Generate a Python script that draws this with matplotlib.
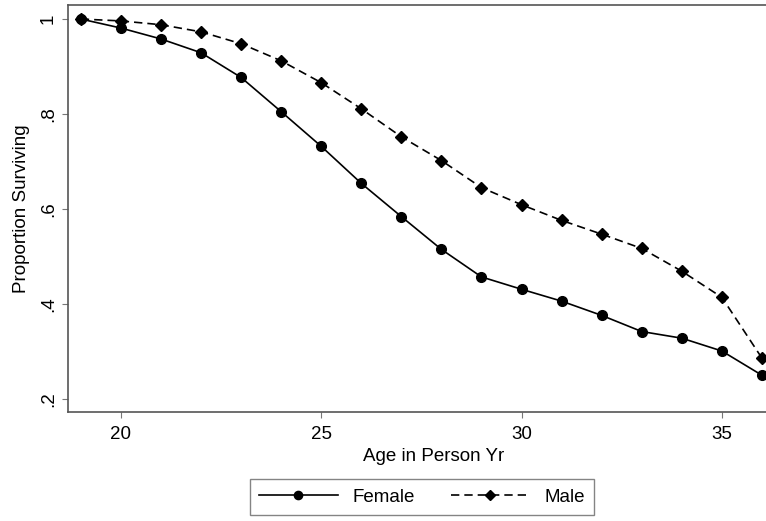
import matplotlib.pyplot as plt
from matplotlib.ticker import FixedLocator

plt.rcParams['font.family'] = ['Liberation Sans', 'DejaVu Sans']

ages = list(range(19, 37))
female = [1.0, 0.981, 0.958, 0.929, 0.877, 0.805, 0.732, 0.654, 0.584, 0.515,
          0.457, 0.431, 0.406, 0.376, 0.342, 0.328, 0.301, 0.250]
male = [1.0, 0.996, 0.988, 0.973, 0.948, 0.912, 0.866, 0.811, 0.752, 0.702,
        0.645, 0.609, 0.576, 0.547, 0.517, 0.469, 0.414, 0.286]

y_ticks = [0.2, 0.4, 0.6, 0.8, 1.0]
y_labels = ['.2', '.4', '.6', '.8', '1']
x_ticks = [20, 25, 30, 35]

fig = plt.figure(figsize=(7.66, 5.21), dpi=100)
ax = fig.add_axes([68 / 766, 109 / 521, 732 / 766, 407 / 521])

ax.plot(ages, female, '-', color='black', lw=1.2, marker='o', ms=7, label='Female')
ax.plot(ages, male, '--', color='black', lw=1.2, marker='D', ms=6.5,
        dashes=(5, 3), label='Male')

ax.set_xlim(18.68, 36.95)
ax.set_ylim(0.1726, 1.0295)
ax.xaxis.set_major_locator(FixedLocator(x_ticks))
ax.set_yticks(y_ticks)
ax.set_yticklabels(y_labels, rotation=90, va='center')
ax.tick_params(direction='out', length=4, width=0.8, color='#777777',
               labelsize=13.5)
ax.tick_params(axis='x', pad=6)
ax.tick_params(axis='y', pad=4)

for s in ax.spines.values():
    s.set_color('#555555')
    s.set_linewidth(1.2)

ax.set_xlabel('Age in Person Yr', fontsize=13.5, labelpad=4)
ax.set_ylabel('Proportion Surviving', fontsize=13.5, labelpad=7)

leg = fig.legend(loc='center', bbox_to_anchor=(422 / 766, 1 - 497 / 521),
                 ncol=2, frameon=True, fancybox=False, fontsize=13.5,
                 handlelength=4.2, handletextpad=0.8, columnspacing=1.9,
                 borderpad=0.5, markerscale=0.85)
leg.get_frame().set_edgecolor('#666666')
leg.get_frame().set_linewidth(1.0)

plt.savefig('out.png', dpi=100)
